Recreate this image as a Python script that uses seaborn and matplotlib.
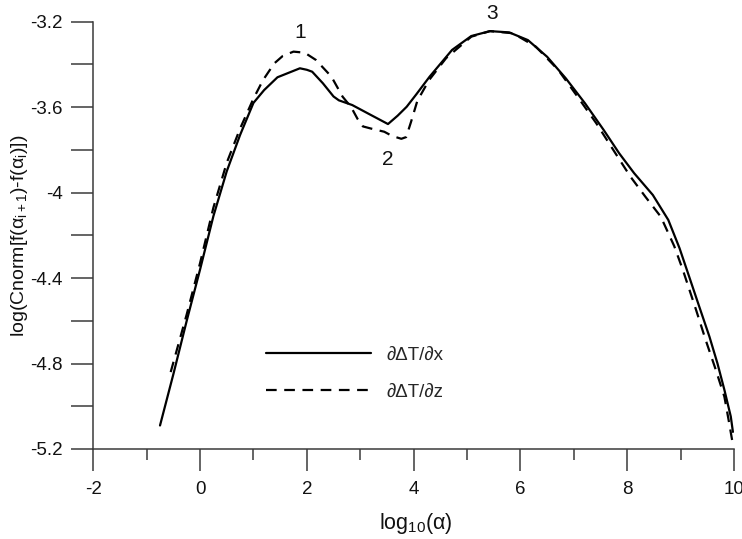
import matplotlib
matplotlib.use("Agg")
import matplotlib.pyplot as plt
import numpy as np
import pandas as pd
import seaborn as sns

# ---------------- data ----------------
series_labels = ["\u2202\u0394T/\u2202x", "\u2202\u0394T/\u2202z"]

x_dx = [-0.75, -0.5, -0.25, 0.0, 0.25, 0.5, 0.75, 1.0, 1.2, 1.45, 1.6, 1.75,
        1.87, 2.0, 2.1, 2.3, 2.5, 2.6, 2.85, 3.15, 3.52, 3.7, 3.87, 4.05,
        4.3, 4.72, 5.08, 5.43, 5.79, 6.14, 6.5, 6.85, 7.21, 7.56, 7.85,
        8.13, 8.48, 8.77, 8.98, 9.16, 9.35, 9.54, 9.69, 9.82, 9.94, 9.98]
y_dx = [-5.09, -4.85, -4.60, -4.36, -4.11, -3.90, -3.73, -3.58, -3.52, -3.46,
        -3.445, -3.43, -3.418, -3.425, -3.434, -3.488, -3.55, -3.568, -3.59,
        -3.63, -3.679, -3.64, -3.598, -3.54, -3.457, -3.332, -3.267, -3.244,
        -3.25, -3.286, -3.364, -3.465, -3.582, -3.707, -3.816, -3.909, -4.011,
        -4.128, -4.26, -4.393, -4.534, -4.674, -4.799, -4.923, -5.048, -5.12]

x_dz = [-0.55, -0.25, 0.0, 0.25, 0.5, 0.75, 1.0, 1.18, 1.39, 1.55, 1.75, 1.96,
        2.17, 2.46, 2.67, 2.83, 2.95, 3.05, 3.2, 3.45, 3.6, 3.77, 3.86, 3.95,
        4.07, 4.29, 4.61, 5.08, 5.43, 5.86, 6.29, 6.71, 7.07, 7.42, 7.78,
        8.06, 8.34, 8.63, 8.88, 9.04, 9.29, 9.47, 9.66, 9.82, 9.91, 9.98]
y_dz = [-4.84, -4.57, -4.33, -4.07, -3.86, -3.70, -3.56, -3.473, -3.395,
        -3.36, -3.34, -3.345, -3.379, -3.457, -3.551, -3.60, -3.655, -3.69,
        -3.70, -3.715, -3.735, -3.748, -3.74, -3.67, -3.57, -3.473, -3.37,
        -3.27, -3.244, -3.254, -3.317, -3.426, -3.551, -3.675, -3.816, -3.925,
        -4.019, -4.113, -4.25, -4.36, -4.549, -4.69, -4.83, -4.955, -5.079,
        -5.18]

peak_labels = ["1", "2", "3"]
peak_x = [1.87, 3.51, 5.47]
peak_y = [-3.25, -3.847, -3.161]

x_major = [-2, 0, 2, 4, 6, 8, 10]
x_minor = [-1, 1, 3, 5, 7, 9]
y_major = [-5.2, -4.8, -4.4, -4.0, -3.6, -3.2]
y_major_labels = ["-5.2", "-4.8", "-4.4", "-4", "-3.6", "-3.2"]
y_minor = [-5.0, -4.6, -4.2, -3.8, -3.4]

x_label = "log$_{10}$(\u03b1)"
y_label = "log(Cnorm[f(\u03b1$_{\\mathrm{i+1}}$)-f(\u03b1$_{\\mathrm{i}}$)])"

# ---------------- style ----------------
sns.set_style("ticks")
plt.rcParams["font.family"] = ["Liberation Sans", "DejaVu Sans"]
plt.rcParams["mathtext.fontset"] = "custom"
plt.rcParams["mathtext.rm"] = "Liberation Sans"
plt.rcParams["mathtext.it"] = "Liberation Sans"
plt.rcParams["mathtext.bf"] = "Liberation Sans"
plt.rcParams["axes.unicode_minus"] = False

AX_COLOR = "#3a3a3a"

fig = plt.figure(figsize=(7.42, 5.39), dpi=100)
ax = fig.add_axes([0.1257, 0.1670, 0.8635, 0.7927])

df = pd.concat([
    pd.DataFrame({"x": x_dx, "y": y_dx, "series": series_labels[0]}),
    pd.DataFrame({"x": x_dz, "y": y_dz, "series": series_labels[1]}),
], ignore_index=True)

sns.lineplot(data=df, x="x", y="y", style="series",
             dashes={series_labels[0]: "", series_labels[1]: (4.8, 3.4)},
             color="black", linewidth=1.6, estimator=None, sort=False,
             ax=ax, legend=False)

handles = ax.get_lines()[:2]
for h, lab in zip(handles, series_labels):
    h.set_label(lab)

ax.legend(handles=handles, labels=series_labels, loc="center left",
          bbox_to_anchor=(0.2696, 0.1767), frameon=False,
          borderpad=0, borderaxespad=0, handlelength=5.6,
          handletextpad=0.85, labelspacing=1.05,
          prop={"family": ["Liberation Sans", "DejaVu Sans"], "size": 13.5})

for lab, px, py in zip(peak_labels, peak_x, peak_y):
    ax.text(px, py, lab, ha="center", va="center", fontsize=15, color="#111111")

ax.set_xlim(-2, 10)
ax.set_ylim(-5.2, -3.2)
ax.set_xticks(x_major)
ax.set_xticks(x_minor, minor=True)
ax.set_xticklabels([str(v) for v in x_major])
ax.set_yticks(y_major)
ax.set_yticks(y_minor, minor=True)
ax.set_yticklabels(y_major_labels)

sns.despine(ax=ax)
for s in ("left", "bottom"):
    ax.spines[s].set_color(AX_COLOR)
    ax.spines[s].set_linewidth(1.1)

ax.tick_params(axis="y", which="both", length=15.8, width=1.1,
               color=AX_COLOR, direction="out", pad=6, labelsize=13.5,
               labelcolor="#111111")
ax.tick_params(axis="x", which="major", length=15.8, width=1.1,
               color=AX_COLOR, direction="out", pad=7.5, labelsize=13.5,
               labelcolor="#111111")
ax.tick_params(axis="x", which="minor", length=7.9, width=1.1,
               color=AX_COLOR, direction="out")

ax.set_xlabel(x_label, fontsize=15.5, color="#111111")
ax.set_ylabel(y_label, fontsize=14, color="#111111")
ax.xaxis.set_label_coords(0.5037, -0.145)
ax.yaxis.set_label_coords(-0.098, 0.50)

fig.savefig("out.png", dpi=100)
